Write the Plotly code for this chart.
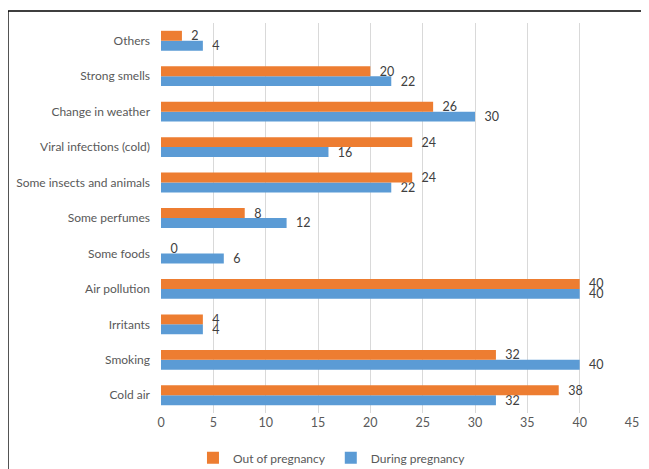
import plotly.graph_objects as go

categories = ["Cold air", "Smoking", "Irritants", "Air pollution", "Some foods",
              "Some perfumes", "Some insects and animals", "Viral infections (cold)",
              "Change in weather", "Strong smells", "Others"]
out_of_pregnancy = [38, 32, 4, 40, 0, 8, 24, 24, 26, 20, 2]
during_pregnancy = [32, 40, 4, 40, 6, 12, 22, 16, 30, 22, 4]
x_ticks = [0, 5, 10, 15, 20, 25, 30, 35, 40, 45]

font = "Lato"
grey = "#595959"

fig = go.Figure()
fig.add_trace(go.Bar(
    y=categories, x=during_pregnancy, orientation="h", name="During pregnancy",
    marker=dict(color="#5B9BD5", line=dict(width=0)),
    texttemplate="  %{x}", textposition="outside", cliponaxis=False,
    constraintext="none",
    textfont=dict(family=font, size=12.5, color="#404040"),
))
fig.add_trace(go.Bar(
    y=categories, x=out_of_pregnancy, orientation="h", name="Out of pregnancy",
    marker=dict(color="#ED7D31", line=dict(width=0)),
    texttemplate="  %{x}", textposition="outside", cliponaxis=False,
    constraintext="none",
    textfont=dict(family=font, size=12.5, color="#404040"),
))

fig.update_layout(
    width=641, height=461,
    margin=dict(l=153, r=17, t=15, b=56, autoexpand=False),
    paper_bgcolor="white", plot_bgcolor="white",
    barmode="group", bargap=0.44, bargroupgap=0,
    font=dict(family=font, size=12, color=grey),
    showlegend=True,
    legend=dict(orientation="h", traceorder="reversed", x=0.363, xanchor="center",
                y=-0.115, yanchor="middle", font=dict(family=font, size=12, color=grey),
                itemwidth=30),
    xaxis=dict(range=[0, 45], tickvals=x_ticks, showgrid=True, gridcolor="#D9D9D9",
               gridwidth=1, zeroline=False, showline=False, ticks="",
               automargin=False,
               tickfont=dict(family=font, size=12.5, color=grey), fixedrange=True),
    yaxis=dict(showgrid=False, zeroline=False, showline=False, ticks="",
               ticklabelstandoff=10, automargin=False,
               tickfont=dict(family=font, size=12, color=grey)),
    shapes=[dict(type="rect", xref="paper", yref="paper",
                 x0=-0.325, x1=1.2, y0=-0.4, y1=1.031,
                 line=dict(color="black", width=1.5), fillcolor="rgba(0,0,0,0)",
                 layer="above")],
)

fig.write_html("out.html")
